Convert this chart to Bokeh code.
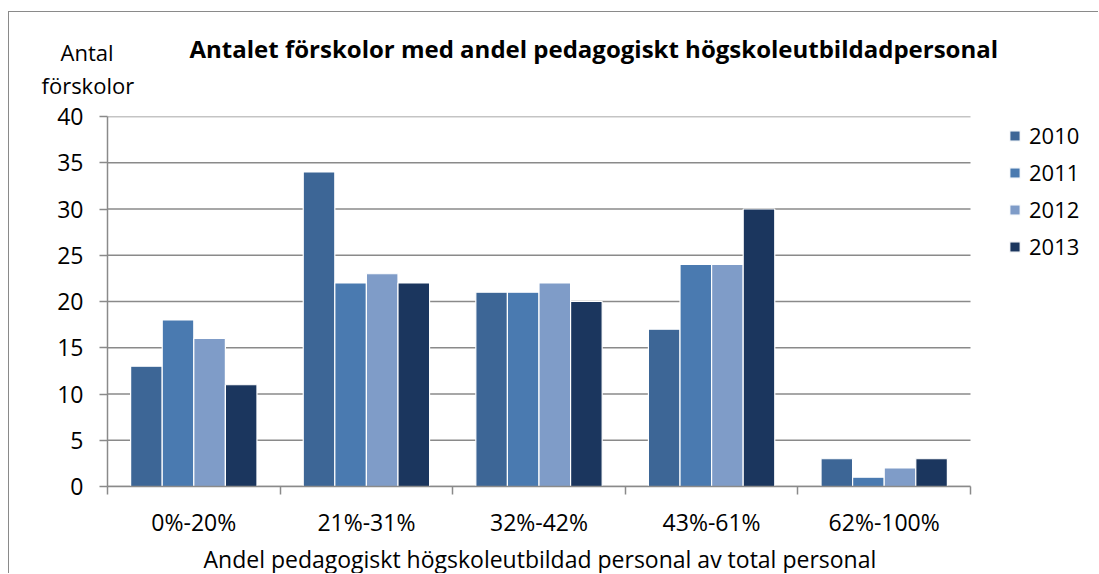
from bokeh.plotting import figure
from bokeh.models import ColumnDataSource, FixedTicker, Legend, LegendItem, Range1d, Title
from bokeh.transform import dodge
from bokeh.embed import file_html
from bokeh.resources import INLINE

categories = ["0%-20%", "21%-31%", "32%-42%", "43%-61%", "62%-100%"]
years = ["2010", "2011", "2012", "2013"]
v2010 = [13, 34, 21, 17, 3]
v2011 = [18, 22, 21, 24, 1]
v2012 = [16, 23, 22, 24, 2]
v2013 = [11, 22, 20, 30, 3]
y_ticks = [0, 5, 10, 15, 20, 25, 30, 35, 40]

title_text = "Antalet förskolor med andel pedagogiskt högskoleutbildadpersonal"
y_title = ["Antal", "förskolor"]
x_title = "Andel pedagogiskt högskoleutbildad personal av total personal"

colors = ["#3D6696", "#4A7AB0", "#7F9CC8", "#1B365E"]
FONT = "Open Sans"
GRAY = "#8a8a8a"
FS = "22px"
FS_TICK = "23px"

# layout (pixels): plot area 863 px wide inside a frame that also holds the legend
W, H = 1090, 562
LEFT, TOP, BOTTOM = 98, 104, 86
PLOT_W = 863
FRAME_W = W - LEFT
n = len(categories)
x_end = n * FRAME_W / PLOT_W

centers = [i + 0.5 for i in range(n)]
bounds = [float(i) for i in range(n + 1)]
src = ColumnDataSource(dict(x=centers, y2010=v2010, y2011=v2011, y2012=v2012, y2013=v2013))

p = figure(width=W, height=H, output_backend="svg", toolbar_location=None, title=None,
           x_range=Range1d(0, x_end), y_range=Range1d(0, 40),
           min_border_left=LEFT, min_border_right=0, min_border_top=TOP, min_border_bottom=BOTTOM)
p.margin = (11, 0, 0, 8)
p.outline_line_color = None
p.background_fill_color = "white"
p.border_fill_color = "white"
p.styles = {"border-left": "1px solid #8a8a8a", "border-top": "1px solid #8a8a8a"}

# horizontal grid lines over the category span only
p.xgrid.visible = False
p.ygrid.visible = False
gsrc = ColumnDataSource(dict(y=y_ticks, x0=[0] * len(y_ticks), x1=[n] * len(y_ticks)))
p.segment(x0="x0", x1="x1", y0="y", y1="y", source=gsrc, line_color=GRAY, line_width=1.5)

bw = 0.183
offsets = [-1.5 * bw, -0.5 * bw, 0.5 * bw, 1.5 * bw]
fields = ["y2010", "y2011", "y2012", "y2013"]
items = []
for f, off, c, yr in zip(fields, offsets, colors, years):
    r = p.vbar(x=dodge("x", off), top=f, width=bw, source=src, fill_color=c,
               line_color="white", line_width=1.2)
    items.append(LegendItem(label=yr, renderers=[r]))

legend = Legend(items=items, location=(901, 225))
legend.padding = 0
legend.margin = 0
legend.border_line_alpha = 0
legend.background_fill_alpha = 0
legend.glyph_width = 13
legend.glyph_height = 13
legend.label_height = 20
legend.spacing = 7
legend.label_standoff = 8
legend.label_text_font = FONT
legend.label_text_font_size = FS
legend.label_text_color = "black"
p.add_layout(legend, "center")

# axes
xa = p.xaxis[0]
xa.bounds = (0, n)
xa.ticker = FixedTicker(ticks=centers, minor_ticks=bounds)
xa.major_label_overrides = {c: lab for c, lab in zip(centers, categories)}
xa.major_tick_out = 0
xa.major_tick_in = 0
xa.minor_tick_out = 8
xa.minor_tick_in = 0
xa.minor_tick_line_color = GRAY
xa.minor_tick_line_width = 1.5
xa.axis_line_color = GRAY
xa.axis_line_width = 1.5
xa.major_label_text_font = FONT
xa.major_label_text_font_size = FS_TICK
xa.major_label_text_color = "black"
xa.major_label_standoff = 11
xa.axis_label = None

ya = p.yaxis[0]
ya.ticker = FixedTicker(ticks=y_ticks, minor_ticks=[])
ya.major_tick_out = 8
ya.major_tick_in = 0
ya.major_tick_line_color = GRAY
ya.major_tick_line_width = 1.5
ya.axis_line_color = GRAY
ya.axis_line_width = 1.5
ya.major_label_text_font = FONT
ya.major_label_text_font_size = FS_TICK
ya.major_label_text_color = "black"
ya.major_label_standoff = 16

# x-axis title, centred under the category span
t_x = Title(text=x_title, align="left", offset=96, standoff=0, vertical_align="bottom",
            text_font=FONT, text_font_size="23px", text_font_style="normal", text_color="black")
p.add_layout(t_x, "below")

# titles stacked in the top panel (first = nearest the frame)
t_fs = Title(text=y_title[1], align="left", offset=-66, standoff=32, vertical_align="middle",
             text_font=FONT, text_font_size=FS, text_font_style="normal", text_color="black")
t_an = Title(text=y_title[0], align="left", offset=-47, standoff=-30, vertical_align="middle",
             text_font=FONT, text_font_size=FS, text_font_style="normal", text_color="black")
t_main = Title(text=title_text, align="left", offset=82, standoff=-31, vertical_align="middle",
               text_font=FONT, text_font_size="24px", text_font_style="bold", text_color="black")
p.add_layout(t_fs, "above")
p.add_layout(t_an, "above")
p.add_layout(t_main, "above")

open("out.html", "w").write(file_html(p, INLINE))
